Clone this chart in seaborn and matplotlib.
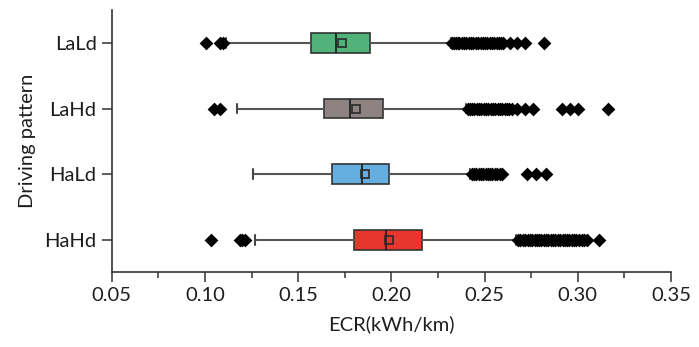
import matplotlib
matplotlib.use("Agg")
import matplotlib.pyplot as plt
from matplotlib.ticker import MultipleLocator
import numpy as np
import pandas as pd
import seaborn as sns

# Driving patterns, top to bottom
patterns = ["LaLd", "LaHd", "HaLd", "HaHd"]
box_colors = ["#52B37A", "#8E8283", "#66AEE0", "#E8362E"]

# Summary statistics of energy consumption rate (kWh/km)
q1 = [0.157, 0.164, 0.168, 0.180]
median = [0.170, 0.178, 0.184, 0.197]
q3 = [0.1885, 0.1953, 0.1985, 0.2164]
mean = [0.1736, 0.181, 0.1858, 0.1987]
whisker_low = [0.111, 0.117, 0.1257, 0.1268]
whisker_high = [0.232, 0.240, 0.242, 0.267]

# Outliers per pattern
fliers_LaLd = [0.1005, 0.1080, 0.1095,
               0.2325, 0.2335, 0.2345, 0.2355, 0.2365, 0.2378, 0.2390, 0.2402,
               0.2415, 0.2428, 0.2440, 0.2452, 0.2465, 0.2478, 0.2490, 0.2503,
               0.2515, 0.2528, 0.2540, 0.2552, 0.2565, 0.2578, 0.2590, 0.2600,
               0.2636, 0.2674, 0.2717, 0.2819]
fliers_LaHd = [0.1047, 0.1080,
               0.2411, 0.2420, 0.2432, 0.2445, 0.2458, 0.2470, 0.2482, 0.2495,
               0.2508, 0.2520, 0.2533, 0.2545, 0.2558, 0.2570, 0.2582, 0.2595,
               0.2608, 0.2620, 0.2633, 0.2645, 0.2674, 0.2717, 0.2760,
               0.2915, 0.2958, 0.3001, 0.3160]
fliers_HaLd = [0.2431, 0.2442, 0.2455, 0.2468, 0.2480, 0.2492, 0.2505, 0.2518,
               0.2530, 0.2542, 0.2555, 0.2568, 0.2580, 0.2592,
               0.2726, 0.2776, 0.2830]
fliers_HaHd = [0.1030, 0.1185, 0.1200, 0.1215,
               0.2680, 0.2692, 0.2705, 0.2718, 0.2730, 0.2742, 0.2755, 0.2768,
               0.2780, 0.2792, 0.2805, 0.2818, 0.2830, 0.2842, 0.2855, 0.2868,
               0.2880, 0.2892, 0.2905, 0.2918, 0.2930, 0.2942, 0.2955, 0.2968,
               0.2980, 0.2992, 0.3005, 0.3020, 0.3035, 0.3048, 0.3114]

x_ticks = [0.05, 0.10, 0.15, 0.20, 0.25, 0.30, 0.35]
x_label = "ECR(kWh/km)"
y_label = "Driving pattern"

sns.set_style("ticks")
plt.rcParams["font.family"] = ["Lato", "DejaVu Sans"]
plt.rcParams["axes.edgecolor"] = "#333333"
plt.rcParams["xtick.color"] = "#333333"
plt.rcParams["ytick.color"] = "#333333"
plt.rcParams["xtick.labelcolor"] = "#1e1e1e"
plt.rcParams["ytick.labelcolor"] = "#1e1e1e"
plt.rcParams["text.color"] = "#1e1e1e"
plt.rcParams["axes.labelcolor"] = "#1e1e1e"

fig, ax = plt.subplots(figsize=(6.99, 3.47), dpi=100)
fig.subplots_adjust(left=0.160, right=0.960, bottom=0.216, top=0.971)

flier_df = pd.DataFrame({
    "pattern": (["LaLd"] * len(fliers_LaLd) + ["LaHd"] * len(fliers_LaHd)
                + ["HaLd"] * len(fliers_HaLd) + ["HaHd"] * len(fliers_HaHd)),
    "ECR": fliers_LaLd + fliers_LaHd + fliers_HaLd + fliers_HaHd,
})

stats = []
for i, name in enumerate(patterns):
    stats.append(dict(label=name, q1=q1[i], med=median[i], q3=q3[i],
                      mean=mean[i], whislo=whisker_low[i],
                      whishi=whisker_high[i], fliers=[]))

bxp_kwargs = dict(
    positions=list(range(len(patterns))), widths=0.30, capwidths=0.15,
    patch_artist=True, showmeans=True, showfliers=False,
    boxprops=dict(edgecolor="#333333", linewidth=1.2),
    medianprops=dict(color="#222222", linewidth=1.3),
    whiskerprops=dict(color="#555555", linewidth=1.5),
    capprops=dict(color="#444444", linewidth=1.5),
    meanprops=dict(marker="s", markerfacecolor="none",
                   markeredgecolor="#2a2a2a", markersize=5.2,
                   markeredgewidth=1.2),
)
try:
    bp = ax.bxp(stats, orientation="horizontal", **bxp_kwargs)
except TypeError:
    bp = ax.bxp(stats, vert=False, **bxp_kwargs)
for patch, c in zip(bp["boxes"], box_colors):
    patch.set_facecolor(c)

sns.stripplot(data=flier_df, x="ECR", y="pattern", order=patterns,
              jitter=False, marker="D", color="black", size=7,
              linewidth=0, ax=ax, zorder=5)

ax.set_xlim(0.05, 0.35)
ax.set_ylim(3.49, -0.50)
ax.set_xticks(x_ticks)
ax.set_xticklabels([f"{t:.2f}" for t in x_ticks], fontsize=14.5)
ax.xaxis.set_minor_locator(MultipleLocator(0.025))
ax.set_yticks(range(len(patterns)))
ax.set_yticklabels(patterns, fontsize=14.5)
ax.tick_params(axis="both", which="major", length=7, width=1.1, pad=4)
ax.tick_params(axis="x", which="minor", length=4, width=1.1)
ax.tick_params(axis="y", which="minor", left=False)
ax.set_xlabel(x_label, fontsize=14.5, labelpad=8)
ax.set_ylabel(y_label, fontsize=14.5, labelpad=6)
for s in ["left", "bottom"]:
    ax.spines[s].set_linewidth(1.2)
sns.despine(ax=ax)

fig.savefig("out.png", dpi=100)
